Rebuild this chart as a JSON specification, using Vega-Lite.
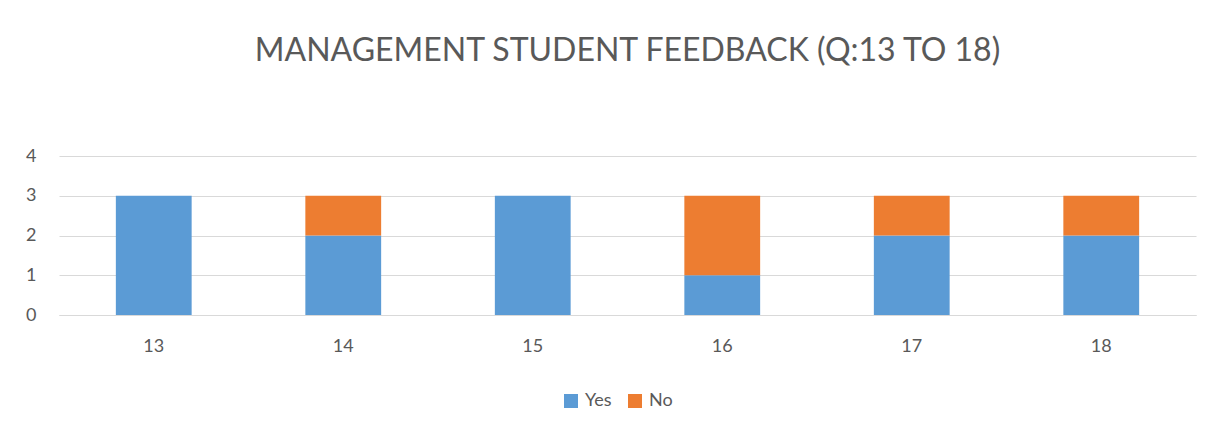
{
  "$schema": "https://vega.github.io/schema/vega-lite/v6.json",
  "autosize": "none",
  "width": 1137,
  "height": 159,
  "padding": {"left": 59, "top": 156, "right": 31, "bottom": 117},
  "background": "white",
  "title": {
    "text": "MANAGEMENT STUDENT FEEDBACK (Q:13 TO 18)",
    "font": "Lato",
    "fontSize": 32,
    "fontWeight": "normal",
    "color": "#595959",
    "anchor": "middle",
    "frame": "group",
    "offset": 79
  },
  "data": {
    "values": [
      {"q": "13", "answer": "Yes", "count": 3, "ord": 1},
      {"q": "13", "answer": "No", "count": 0, "ord": 2},
      {"q": "14", "answer": "Yes", "count": 2, "ord": 1},
      {"q": "14", "answer": "No", "count": 1, "ord": 2},
      {"q": "15", "answer": "Yes", "count": 3, "ord": 1},
      {"q": "15", "answer": "No", "count": 0, "ord": 2},
      {"q": "16", "answer": "Yes", "count": 1, "ord": 1},
      {"q": "16", "answer": "No", "count": 2, "ord": 2},
      {"q": "17", "answer": "Yes", "count": 2, "ord": 1},
      {"q": "17", "answer": "No", "count": 1, "ord": 2},
      {"q": "18", "answer": "Yes", "count": 2, "ord": 1},
      {"q": "18", "answer": "No", "count": 1, "ord": 2}
    ]
  },
  "mark": {"type": "bar"},
  "encoding": {
    "x": {
      "field": "q",
      "type": "nominal",
      "sort": null,
      "scale": {"paddingInner": 0.6, "paddingOuter": 0.3},
      "axis": {
        "title": null,
        "labelAngle": 0,
        "labelFont": "Lato",
        "labelFontSize": 18,
        "labelColor": "#595959",
        "labelPadding": 22,
        "ticks": false,
        "domain": true,
        "domainColor": "#D9D9D9",
        "domainWidth": 1
      }
    },
    "y": {
      "field": "count",
      "type": "quantitative",
      "stack": "zero",
      "scale": {"domain": [0, 4], "nice": false},
      "axis": {
        "title": null,
        "values": [0, 1, 2, 3, 4],
        "labelFont": "Lato",
        "labelFontSize": 18,
        "labelColor": "#595959",
        "labelPadding": 23,
        "ticks": false,
        "domain": false,
        "grid": true,
        "gridColor": "#D9D9D9",
        "gridWidth": 1
      }
    },
    "color": {
      "field": "answer",
      "type": "nominal",
      "scale": {"domain": ["Yes", "No"], "range": ["#5B9BD5", "#ED7D31"]},
      "legend": {
        "title": null,
        "orient": "none",
        "direction": "horizontal",
        "legendX": 503,
        "legendY": 236,
        "symbolType": "square",
        "symbolSize": 196,
        "symbolStrokeWidth": 0,
        "labelFont": "Lato",
        "labelFontSize": 18,
        "labelColor": "#595959",
        "columnPadding": 14,
        "labelOffset": 5
      }
    },
    "order": {"field": "ord", "type": "quantitative"}
  },
  "config": {
    "view": {"stroke": null}
  }
}
